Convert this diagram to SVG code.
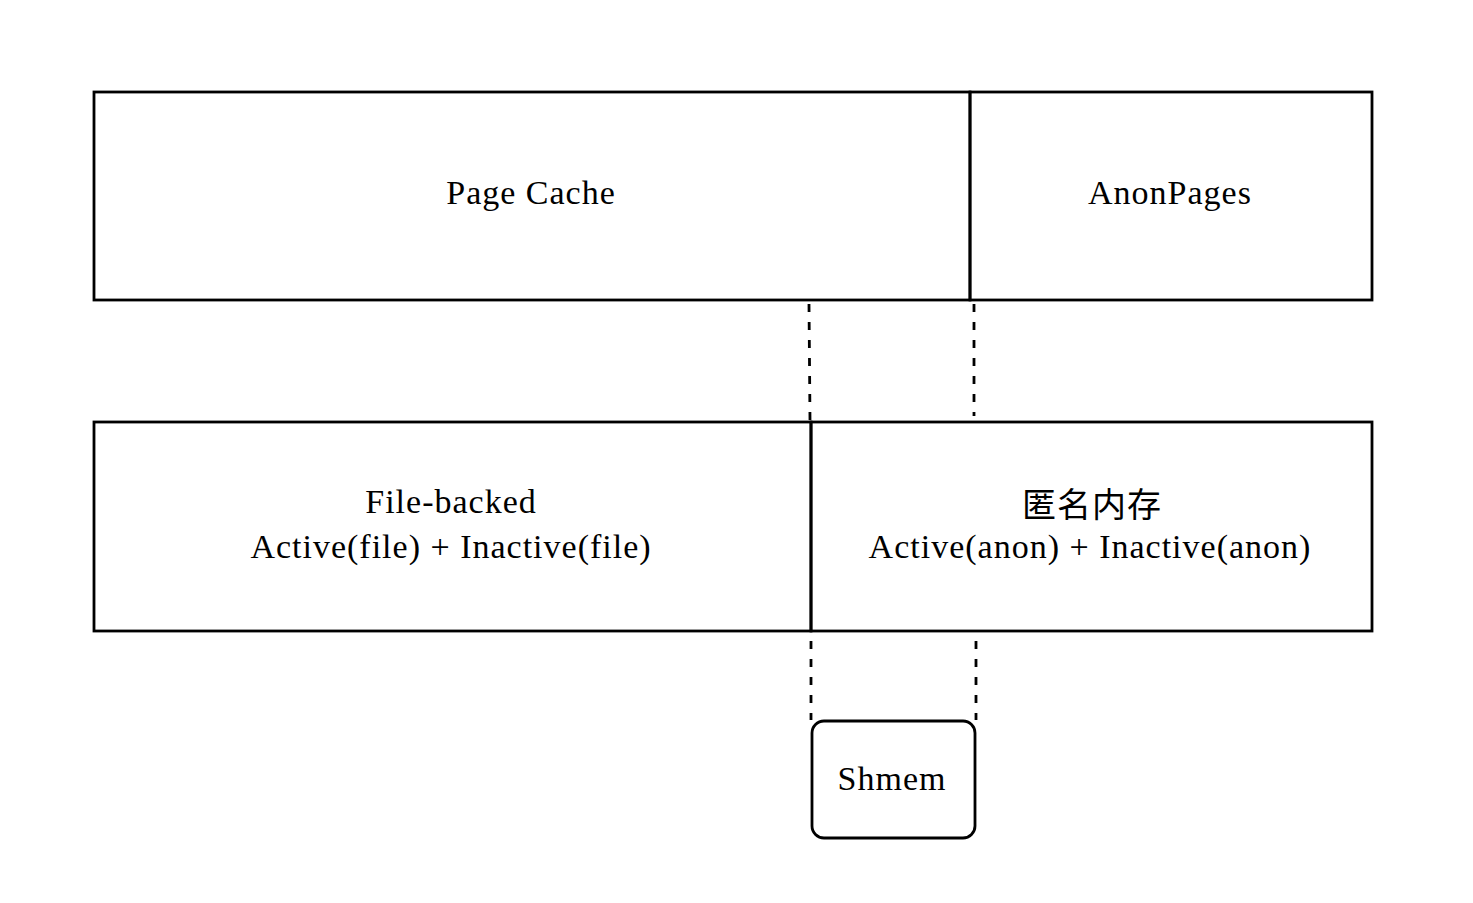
<svg xmlns="http://www.w3.org/2000/svg" width="1473" height="903" viewBox="0 0 1473 903">
<style>
.box{fill:none;stroke:#000;stroke-width:2.8}
.dash{stroke:#000;stroke-width:2.8;stroke-dasharray:8 10;fill:none}
text{font-family:"Liberation Serif","Noto Sans CJK SC",serif;font-size:34px;letter-spacing:1px;fill:#000;text-anchor:middle}
</style>
<rect width="1473" height="903" fill="#fff"/>
<g id="connectors">
<line class="dash" x1="809" y1="304" x2="810" y2="420"/>
<line class="dash" x1="974" y1="304" x2="974" y2="416"/>
<line class="dash" x1="811" y1="641" x2="811" y2="720"/>
<line class="dash" x1="976" y1="641" x2="976" y2="720"/>
</g>
<g id="page-cache">
<rect class="box" x="94" y="92" width="876" height="208"/>
<text x="531" y="204">Page Cache</text>
</g>
<g id="anon-pages">
<rect class="box" x="970" y="92" width="402" height="208"/>
<text x="1170" y="204">AnonPages</text>
</g>
<g id="file-backed">
<rect class="box" x="94" y="422" width="717" height="209"/>
<text x="451" y="513">File-backed</text>
<text x="451" y="558">Active(file) + Inactive(file)</text>
</g>
<g id="anon-mem">
<rect class="box" x="811" y="422" width="561" height="209"/>
<text x="1092" y="517">匿名内存</text>
<text x="1090" y="558">Active(anon) + Inactive(anon)</text>
</g>
<g id="shmem">
<rect class="box" x="812" y="721" width="163" height="117" rx="12" ry="12" stroke-width="3.2"/>
<text x="892" y="790">Shmem</text>
</g>
</svg>
